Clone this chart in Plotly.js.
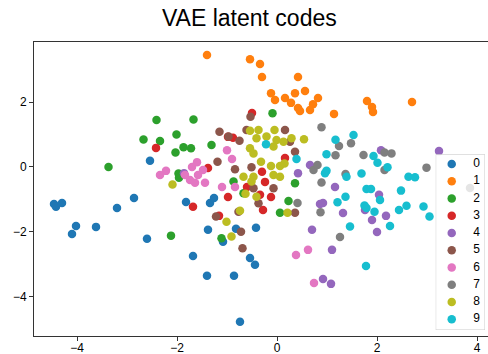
<!DOCTYPE html>
<html>
<head>
<meta charset="utf-8">
<script src="https://cdn.plot.ly/plotly-3.0.1.min.js"></script>
<style>html,body{margin:0;padding:0;background:#fff;overflow:hidden;}</style>
</head>
<body>
<div id="chart" style="width:488px;height:354px;"></div>
<script>
// Class labels and colours (tab10)
const classes = ["0","1","2","3","4","5","6","7","8","9"];
const colors = ["#1f77b4","#ff7f0e","#2ca02c","#d62728","#9467bd","#8c564b","#e377c2","#7f7f7f","#bcbd22","#17becf"];

// latent codes per class
const x0 = [-4.46,-4.42,-4.30,-4.02,-4.10,-3.62,-3.20,-2.86,-2.60,-2.54,-1.82,-1.34,-1.26,-1.38,-1.68,-1.40,-0.86,-0.82,-1.08,-0.42,-0.54,-0.44,-0.74];
const y0 = [-1.14,-1.23,-1.11,-1.82,-2.07,-1.85,-1.27,-0.96,-2.22,0.19,-1.08,-1.11,-0.96,-1.94,-2.75,-3.36,-3.36,-1.91,-2.31,-1.88,-2.81,-3.02,-4.78];

const x1 = [-1.40,-0.54,-0.34,-0.30,0.42,-0.12,-0.04,0.16,0.36,0.56,0.28,0.42,0.46,0.66,0.72,0.82,1.14,1.80,1.90,1.92,2.70];
const y1 = [3.46,3.33,3.18,2.78,2.78,2.28,2.07,2.13,2.28,2.35,1.98,1.82,1.73,1.76,1.94,2.13,1.64,2.04,1.85,1.70,2.01];

const x2 = [-2.41,-1.67,-2.67,-2.34,-2.01,-2.03,-1.87,-1.72,-1.31,-3.37,-1.97,-1.96,-0.09,0.36,-0.87,-0.67,-1.11,0.23,0.06,-2.12];
const y2 = [1.45,1.47,0.85,0.80,1.00,0.45,0.61,0.58,0.68,0.00,-0.20,-0.33,1.66,-0.50,-0.45,-0.81,-2.20,-1.05,-1.41,-2.12];

const x3 = [-2.42,-0.50,-0.98,-0.88,-1.38,0.16,-0.30,-0.24,-0.60,-1.68,-0.98,-1.16,-0.34,-0.12,-0.28];
const y3 = [0.59,1.67,0.93,0.90,-0.03,0.28,-0.15,-0.46,-0.62,-1.23,-0.93,-1.51,-0.86,-0.93,-1.33];

const x4 = [-1.86,0.66,0.42,1.16,0.86,0.92,0.70,1.10,0.92,1.08,1.32,2.08,2.04,1.76,1.90,2.18,2.00,3.24];
const y4 = [-0.19,0.06,-0.19,-0.62,-1.14,-1.11,-1.94,-2.56,-3.46,-3.61,-1.42,0.52,-0.86,-1.33,-1.64,-1.51,-2.01,0.49];

const x5 = [-0.53,-1.15,-0.97,-0.75,-0.61,-1.19,-0.84,-0.51,0.16,0.36,-0.07,0.26,-1.22,-0.72,-0.69,-0.77,-0.37,0.36,-0.47];
const y5 = [1.55,1.09,0.94,0.81,1.14,0.16,-0.07,-0.01,1.14,0.47,-0.66,0.78,-1.53,-2.00,-2.51,-1.38,-1.12,-1.41,-0.66];

const x6 = [-2.22,-2.34,-1.84,-1.00,-0.90,-1.60,-1.70,-1.48,-1.58,-1.74,-1.64,-1.44,-1.10,-0.84,0.38,0.62,0.74];
const y6 = [-0.12,-0.25,-0.25,0.52,0.25,0.15,0.00,-0.09,-0.25,-0.40,-0.49,-0.49,-0.62,-0.62,-2.72,-2.56,-3.58];

const x7 = [0.89,1.24,1.48,1.17,1.73,2.15,2.29,2.15,1.37,2.99,1.26,0.73,0.81,0.89,0.41,0.87,3.86];
const y7 = [1.23,0.65,0.73,0.36,0.37,0.45,0.42,-0.09,-0.22,-0.02,-2.16,-0.09,0.06,-0.48,-1.11,-1.40,-0.65];

const x8 = [-2.09,-0.54,-0.37,-0.05,-0.41,-0.21,-0.01,0.13,-0.07,0.29,0.54,-0.54,-0.47,-0.32,-0.12,0.06,0.15,-0.07,0.06,-0.67,-0.47,-0.51,-0.63,-0.41,-0.74,-0.91,-1.01,0.21];
const y8 = [-0.54,1.12,1.14,1.14,0.89,0.94,0.83,0.78,0.63,0.89,0.86,0.58,0.42,0.16,0.03,0.03,0.11,-0.25,-0.30,-0.30,-0.30,-0.45,-0.83,-0.92,-1.35,-2.15,-1.69,-1.41];

const x9 = [-0.22,1.17,1.53,0.99,0.39,1.93,2.01,2.21,0.99,0.96,1.39,1.69,2.63,2.76,1.79,1.88,2.48,1.21,1.37,2.06,1.75,1.79,1.95,2.44,2.59,2.93,3.05,1.46,2.26,1.78];
const y9 = [0.70,0.84,0.99,0.39,0.25,0.34,0.13,-0.01,-0.12,-0.19,-0.30,-0.20,-0.30,-0.32,-0.68,-0.68,-0.73,-1.09,-0.92,-1.02,-1.19,-1.27,-1.38,-1.33,-1.20,-1.22,-1.53,-1.84,-1.82,-3.06];

const xs = [x0,x1,x2,x3,x4,x5,x6,x7,x8,x9];
const ys = [y0,y1,y2,y3,y4,y5,y6,y7,y8,y9];

const font = "Liberation Sans, Arial, Helvetica, sans-serif";
const MSIZE = 8.5;

const traces = classes.map((c, i) => ({
  type: "scatter",
  mode: "markers",
  name: c,
  x: xs[i],
  y: ys[i],
  showlegend: false,
  marker: {color: colors[i], size: MSIZE, line: {width: 0}}
}));

// Legend drawn as a small inset subplot (matplotlib-like spacing)
const legendIdx = classes.map((c, i) => i);
traces.push({
  type: "scatter", mode: "markers", xaxis: "x2", yaxis: "y2", showlegend: false,
  x: classes.map(() => 0.325), y: legendIdx,
  marker: {color: colors, size: MSIZE, line: {width: 0}},
  hoverinfo: "skip"
});
traces.push({
  type: "scatter", mode: "text", xaxis: "x2", yaxis: "y2", showlegend: false,
  x: classes.map(() => 0.83), y: legendIdx,
  text: classes, textposition: "middle center",
  textfont: {family: font, size: 12, color: "#000"},
  hoverinfo: "skip", cliponaxis: false
});

const LEG_Y = [9.62, -0.562];

const layout = {
  width: 488,
  height: 354,
  margin: {l: 34, r: 0, t: 42, b: 18, pad: 0},
  paper_bgcolor: "#fff",
  plot_bgcolor: "rgba(0,0,0,0)",
  font: {family: font, size: 12, color: "#000"},
  showlegend: false,
  title: {
    text: "VAE latent codes",
    font: {family: font, size: 23, color: "#000"},
    x: 0.511, xref: "container", xanchor: "center",
    y: 0.95, yref: "container", yanchor: "middle"
  },
  xaxis: {
    range: [-4.86, 4.22],
    tickvals: [-4, -2, 0, 2, 4],
    ticks: "outside", ticklen: 4, tickwidth: 1, tickcolor: "#333",
    ticklabelstandoff: -3,
    showline: true, linecolor: "#333", linewidth: 1, mirror: true,
    showgrid: false, zeroline: false,
    tickfont: {family: font, size: 12, color: "#000"}
  },
  yaxis: {
    range: [-5.22, 3.86],
    tickvals: [-4, -2, 0, 2],
    ticks: "outside", ticklen: 4, tickwidth: 1, tickcolor: "#333",
    showline: true, linecolor: "#333", linewidth: 1, mirror: false,
    showgrid: false, zeroline: false,
    tickfont: {family: font, size: 12, color: "#000"}
  },
  xaxis2: {domain: [0.8848, 0.9934], range: [0, 1], anchor: "y2", visible: false, fixedrange: true},
  yaxis2: {domain: [0.0204, 0.618], range: LEG_Y, anchor: "x2", visible: false, fixedrange: true},
  shapes: [{
    type: "rect", xref: "x2", yref: "y2", layer: "below",
    x0: 0, x1: 1, y0: LEG_Y[0], y1: LEG_Y[1],
    fillcolor: "rgba(255,255,255,0.8)",
    line: {color: "#cccccc", width: 1}
  }]
};

Plotly.newPlot("chart", traces, layout, {displayModeBar: false, staticPlot: true});
</script>
</body>
</html>
